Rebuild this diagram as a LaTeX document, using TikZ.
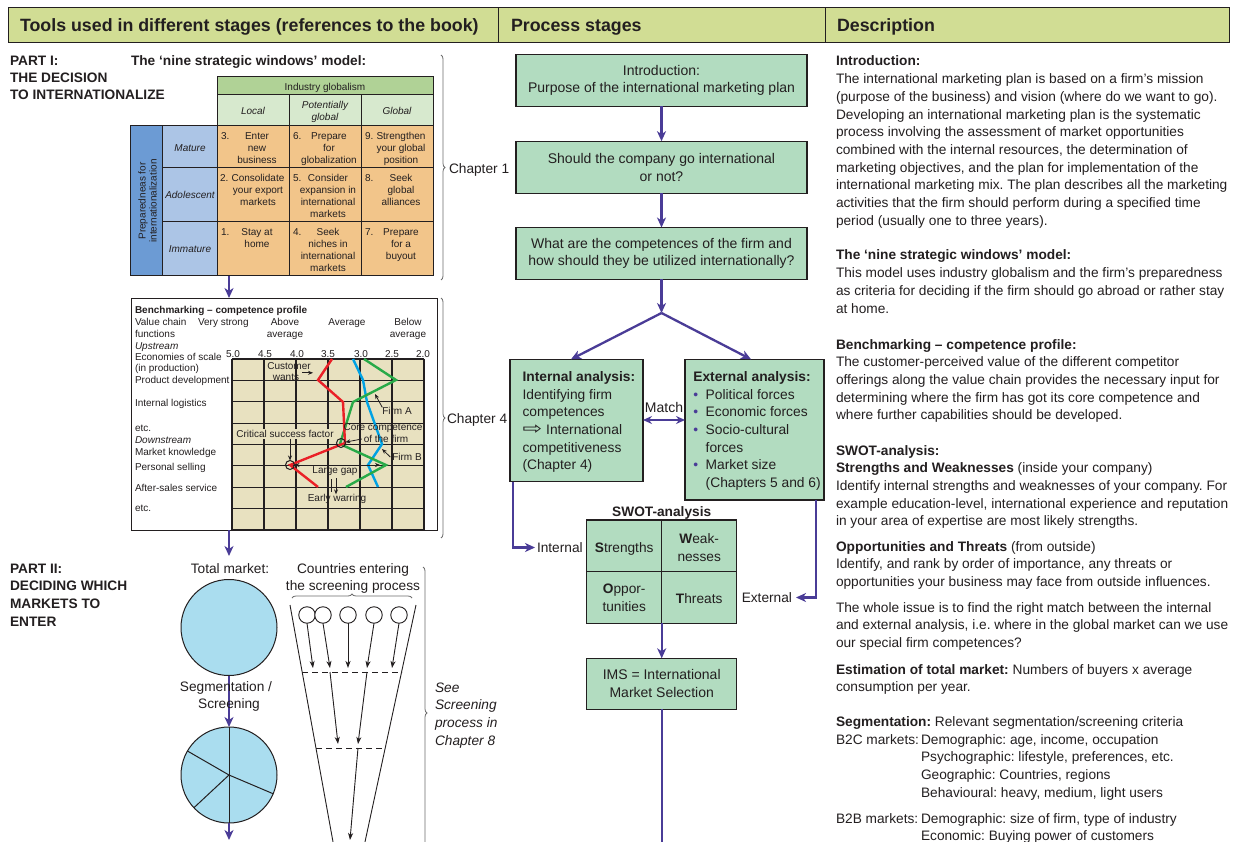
\documentclass[tikz,border=0pt]{standalone}
\usepackage{fontspec}
\setmainfont{Liberation Sans}
\newfontfamily\arrowfont{DejaVu Sans}
\usetikzlibrary{arrows.meta,decorations.pathreplacing}
\frenchspacing

\definecolor{ink}{RGB}{35,31,32}
\definecolor{hdrgreen}{RGB}{209,221,148}
\definecolor{procgreen}{RGB}{178,220,192}
\definecolor{flowpurple}{RGB}{74,60,151}
\definecolor{winorange}{RGB}{242,197,138}
\definecolor{igreen}{RGB}{176,210,150}
\definecolor{igreenlt}{RGB}{215,233,206}
\definecolor{prepblue}{RGB}{108,155,212}
\definecolor{rowblue}{RGB}{172,197,230}
\definecolor{gridbeige}{RGB}{232,225,192}
\definecolor{mktblue}{RGB}{170,221,239}
\definecolor{brgrey}{RGB}{110,110,110}
\definecolor{firmred}{RGB}{234,32,39}
\definecolor{firmblue}{RGB}{0,162,228}
\definecolor{firmgreen}{RGB}{40,170,72}

% a column of single-line nodes: style, name, x, first baseline, step, lines
\newcommand{\stackedlines}[6]{%
  \foreach \txt [count=\k] in {#6}{%
    \node[#1] (#2-\k) at (#3,{#4+(\k-1)*(#5)}) {\txt};}}

\begin{document}
\begin{tikzpicture}[x=1pt,y=-1pt,
  every node/.style={text=ink,inner sep=0pt,outer sep=0pt},
  hdrcell/.style={draw=ink,line width=1pt,fill=hdrgreen,minimum height=35,anchor=north west},
  hdrtext/.style={font=\bfseries\fontsize{17.8}{20}\selectfont,anchor=base west},
  dtxt/.style={font=\fontsize{13.7}{17.7}\selectfont,anchor=base west},
  ntxt/.style={font=\fontsize{13.7}{17.7}\selectfont,anchor=base},
  itxt/.style={font=\itshape\fontsize{13.7}{17.7}\selectfont,anchor=base west},
  parttxt/.style={font=\bfseries\fontsize{13.7}{17}\selectfont,anchor=base west},
  boxtxt/.style={font=\fontsize{13.8}{17.6}\selectfont,anchor=base west},
  flow/.style={draw=flowpurple,line width=2.3pt,-{Stealth[length=10pt,width=9pt,inset=3pt]}},
  flowline/.style={draw=flowpurple,line width=2.3pt},
  flowboth/.style={draw=flowpurple,line width=2.3pt,{Stealth[length=9pt,width=8pt,inset=3pt]}-{Stealth[length=9pt,width=8pt,inset=3pt]}},
  pbox/.style={draw=ink,line width=1.2pt,fill=procgreen,align=center,font=\fontsize{14}{17.7}\selectfont},
  cell/.style={draw=ink,line width=1pt,anchor=north west},
  wtxt/.style={font=\fontsize{10}{12}\selectfont,anchor=base},
  wnum/.style={font=\fontsize{10}{12}\selectfont,anchor=base west},
  btxt/.style={font=\fontsize{10}{12}\selectfont,anchor=base west},
  bctr/.style={font=\fontsize{10}{12}\selectfont,anchor=base},
  note/.style={font=\fontsize{10}{11}\selectfont},
  gridline/.style={draw=ink,line width=1.1pt},
  firmline/.style={line width=2.4pt,line join=miter},
  pointer/.style={draw=ink,line width=0.8pt,-{Stealth[length=5pt,width=4pt]}},
  funnel/.style={draw=ink,line width=0.9pt},
  screen/.style={draw=ink,line width=0.9pt,-{Stealth[length=7pt,width=5pt,inset=2pt]}},
  cut/.style={draw=ink,line width=0.9pt,dash pattern=on 6pt off 4pt},
  bracegrey/.style={draw=brgrey,line width=0.8pt,decorate,decoration={brace,amplitude=4pt}},
]
\useasboundingbox (0,0) rectangle (1239,842);
\fill[white] (0,0) rectangle (1239,842);

% ---------- header bar ----------
\node[hdrcell,minimum width=490] (hd1) at (8,8) {};
\node[hdrcell,minimum width=327] (hd2) at (498,8) {};
\node[hdrcell,minimum width=404] (hd3) at (825,8) {};
\node[hdrtext] (ht1) at (20,32) {Tools used in different stages (references to the book)};
\node[hdrtext] (ht2) at (511,32) {Process stages};
\node[hdrtext] (ht3) at (837,32) {Description};

% ---------- Part I ----------
\stackedlines{parttxt}{p1}{10}{66}{17}{PART I:,THE DECISION,TO INTERNATIONALIZE}
\node[parttxt] (nsw) at (131,66) {The ‘nine strategic windows’ model:};

% nine strategic windows grid
\node[cell,fill=igreen,minimum width=216,minimum height=18] (ig) at (217,77) {};
\node[cell,fill=igreenlt,minimum width=72,minimum height=31] (gl) at (217,95) {};
\node[cell,fill=igreenlt,minimum width=72,minimum height=31] (gp) at (289,95) {};
\node[cell,fill=igreenlt,minimum width=72,minimum height=31] (gg) at (361,95) {};
\node[cell,fill=prepblue,minimum width=32,minimum height=150] (prep) at (130,126) {};
\node[cell,fill=rowblue,minimum width=55,minimum height=42] (rm) at (162,126) {};
\node[cell,fill=rowblue,minimum width=55,minimum height=54] (ra) at (162,168) {};
\node[cell,fill=rowblue,minimum width=55,minimum height=54] (ri) at (162,222) {};
\foreach \c/\x in {1/217,2/289,3/361}
  \foreach \r/\y/\h in {1/126/42,2/168/54,3/222/54}
    \node[cell,fill=winorange,minimum width=72,minimum height=\h] (w\r\c) at (\x,\y) {};

\node[wtxt] (igt) at (325,91) {Industry globalism};
\node[wtxt,font=\itshape\fontsize{10}{12}\selectfont] (glt) at (253,115) {Local};
\stackedlines{wtxt,font=\itshape\fontsize{10}{12}\selectfont}{gpt}{325}{109}{12}{Potentially,global}
\node[wtxt,font=\itshape\fontsize{10}{12}\selectfont] (ggt) at (397,115) {Global};
\node[wtxt,font=\itshape\fontsize{10}{12}\selectfont] (rmt) at (190,152) {Mature};
\node[wtxt,font=\itshape\fontsize{10}{12}\selectfont] (rat) at (190,199) {Adolescent};
\node[wtxt,font=\itshape\fontsize{10}{12}\selectfont] (rit) at (190,253) {Immature};
\node[font=\fontsize{10}{11}\selectfont,align=center,rotate=90] (prept) at (147.5,201) {Preparedneas for\\internationalization};

\node[wnum] (n11) at (221,140) {3.};
\node[wnum] (n12) at (293,140) {6.};
\node[wnum] (n13) at (365,140) {9.};
\node[wnum] (n21) at (220,182) {2.};
\node[wnum] (n22) at (293,182) {5.};
\node[wnum] (n23) at (365,182) {8.};
\node[wnum] (n31) at (221,236) {1.};
\node[wnum] (n32) at (293,236) {4.};
\node[wnum] (n33) at (365,236) {7.};
\stackedlines{wtxt}{t11}{257}{140}{12}{Enter,new,business}
\stackedlines{wtxt}{t12}{329}{140}{12}{Prepare,for,globalization}
\stackedlines{wtxt}{t13}{401}{140}{12}{Strengthen,your global,position}
\stackedlines{wtxt}{t21}{258}{182}{12}{Consolidate,your export,markets}
\stackedlines{wtxt}{t22}{328}{182}{12}{Consider,expansion in,international,markets}
\stackedlines{wtxt}{t23}{401}{182}{12}{Seek,global,alliances}
\stackedlines{wtxt}{t31}{257}{236}{12}{Stay at,home}
\stackedlines{wtxt}{t32}{328}{236}{12}{Seek,niches in,international,markets}
\stackedlines{wtxt}{t33}{401}{236}{12}{Prepare,for a,buyout}

\draw[bracegrey] (441,55) -- (441,280);
\node[dtxt] (ch1) at (449,174) {Chapter 1};

% ---------- benchmarking competence profile ----------
\node[cell,fill=white,minimum width=306,minimum height=232] (bm) at (131,298) {};
\coordinate (winbot) at (229,276);
\draw[flow] (winbot) -- (winbot |- bm.north);

\fill[gridbeige] (232,359) rectangle (424,530);
\foreach \x in {232,264,...,424} \draw[gridline] (\x,359) -- (\x,530);
\foreach \k in {0,...,8} \draw[gridline] (232,{359+\k*21.375}) -- (424,{359+\k*21.375});

\node[btxt,font=\bfseries\fontsize{10}{12}\selectfont] (bmt) at (135,313) {Benchmarking – competence profile};
\node[btxt] (vc1) at (135,325) {Value chain};
\node[btxt] (vc2) at (135,337) {functions};
\node[btxt] (vs) at (198,325) {Very strong};
\node[bctr] (ab1) at (285,325) {Above};
\node[bctr] (ab2) at (285,337) {average};
\node[bctr] (av) at (347,325) {Average};
\node[bctr] (bl1) at (408,325) {Below};
\node[bctr] (bl2) at (408,337) {average};
\node[btxt,font=\itshape\fontsize{10}{12}\selectfont] (ups) at (135,349) {Upstream};
\node[btxt] (eos) at (135,360) {Economies of scale};
\node[btxt] (inp) at (135,371) {(in production)};
\node[btxt] (pdv) at (135,383) {Product development};
\node[btxt] (ilg) at (135,406) {Internal logistics};
\node[btxt] (etc1) at (135,431) {etc.};
\node[btxt,font=\itshape\fontsize{10}{12}\selectfont] (dns) at (135,443) {Downstream};
\node[btxt] (mkn) at (135,455) {Market knowledge};
\node[btxt] (psl) at (135,470) {Personal selling};
\node[btxt] (ass) at (135,491) {After-sales service};
\node[btxt] (etc2) at (135,511) {etc.};
\foreach \v/\x in {5.0/233,4.5/265,4.0/297,3.5/328,3.0/361,2.5/392,2.0/423}
  \node[bctr] (sc\x) at (\x,357) {\v};

% competitor profiles
\draw[firmline,firmblue] (353,359) -- (363,380) -- (367,402) -- (382,444) -- (368,465) -- (378,487);
\draw[firmline,firmgreen] (364,359) -- (396,380) -- (353,402) -- (340,444) -- (386,465) -- (346,487);
\draw[firmline,firmred] (332,359) -- (318,380) -- (343,402) -- (345,443) -- (290,465) -- (318,487);
\node[circle,draw=ink,line width=1pt,minimum size=9] (core) at (341,443) {};
\node[circle,draw=ink,line width=1pt,minimum size=9] (csf) at (290,465) {};

% annotations
\node[wtxt] (cw1) at (289,369) {Customer};
\node[wtxt] (cw2) at (286,380) {wants};
\draw[pointer] ([xshift=3pt,yshift=4pt]cw2.east) -- ++(11,0);
\node[note] (fa) at (397,411) {Firm A};
\coordinate (fa-tip) at (375,394);
\draw[pointer] (fa.north west) -- (fa-tip);
\node[note] (cc1) at (383,428) {Core competence};
\node[note] (cc2) at (386,439) {of the firm};
\draw[pointer] ([xshift=-2pt]cc2.west) -- (core);
\node[note,fill=gridbeige,inner sep=1pt] (csft) at (285,434) {Critical success factor};
\draw[pointer] (csft.south -| csf) -- (csf);
\node[note] (fb) at (407,457) {Firm B};
\coordinate (fb-tip) at (382,449);
\draw[pointer] ([xshift=-2pt]fb.west) -- (fb-tip);
\coordinate (gap-end) at (380,465);
\draw[draw=ink,line width=0.8pt,{Stealth[length=5pt,width=4pt]}-{Stealth[length=5pt,width=4pt]}] (csf) -- (gap-end);
\node[note] (lg) at (335,471) {Large gap};
\node[note] (ew) at (337,499) {Early warring};
\coordinate (ew-top) at (336,478);
\draw[pointer] (ew-top) -- (ew.north -| ew-top);
\coordinate (ew-tick) at (331,479);
\draw[draw=ink,line width=0.8pt] (ew-tick) -- ++(0,13);

\draw[bracegrey] (441,298) -- (441,538);
\node[dtxt] (ch4) at (447,423) {Chapter 4};

% ---------- Part II ----------
\stackedlines{parttxt}{p2}{10}{573}{17.7}{PART II:,DECIDING WHICH,MARKETS TO,ENTER}
\coordinate (bmbot) at (229,530);
\coordinate (tmin) at (229,556);
\draw[flow] (bmbot) -- (tmin);
\node[ntxt] (tmt) at (230,573) {Total market:};
\node[circle,draw=ink,fill=mktblue,line width=1pt,minimum size=96] (tot) at (229,627.5) {};
\node[circle,draw=ink,fill=mktblue,line width=1pt,minimum size=96] (seg) at (229,775) {};
\draw[flow] (tot.south) -- (seg.north);
\node[ntxt] (sg1) at (226,691) {Segmentation /};
\node[ntxt] (sg2) at (229,708) {Screening};
\draw[draw=ink,line width=1pt] (seg.north) -- (seg.south);
\draw[draw=ink,line width=1pt] (seg.center) -- (seg.150);
\draw[draw=ink,line width=1pt] (seg.center) -- (seg.223);
\draw[draw=ink,line width=1pt] (seg.center) -- (seg.-23);
\coordinate (segout) at (229,840);
\draw[flow] (seg.south) -- (segout);

\stackedlines{ntxt}{cty}{353}{573}{17}{Countries entering,the screening process}
\draw[bracegrey] (292,598) -- (412,598);

% screening funnel
\coordinate (fl-a) at (290,605);
\coordinate (fl-b) at (336.3,860);
\coordinate (fr-a) at (416,605);
\coordinate (fr-b) at (361.1,860);
\draw[funnel] (fl-a) -- (fl-b);
\draw[funnel] (fr-a) -- (fr-b);
\foreach \i/\x in {1/307,2/323,3/348,4/374,5/399}
  \node[circle,draw=ink,fill=white,line width=0.9pt,minimum size=16.5] (cc\i) at (\x,615) {};
\coordinate (s1a) at (313,668);
\coordinate (s1b) at (330,668);
\coordinate (s1c) at (348,668);
\coordinate (s1d) at (367,668);
\coordinate (s1e) at (392,668);
\draw[screen] (cc1.south) -- (s1a);
\draw[screen] (cc2.south) -- (s1b);
\draw[screen] (cc3.south) -- (s1c);
\draw[screen] (cc4.south) -- (s1d);
\draw[screen] (cc5.south) -- (s1e);
\coordinate (cut1a) at (302,672);
\coordinate (cut1b) at (402,672);
\draw[cut] (cut1a) -- (cut1b);
\coordinate (s2a) at (330,672);
\coordinate (s2b) at (367,672);
\coordinate (s2c) at (338,744);
\coordinate (s2d) at (358,744);
\draw[screen] (s2a) -- (s2c);
\draw[screen] (s2b) -- (s2d);
\coordinate (cut2a) at (316,748);
\coordinate (cut2b) at (385,748);
\draw[cut] (cut2a) -- (cut2b);
\coordinate (s3a) at (358,748);
\coordinate (s3b) at (350,840);
\draw[screen] (s3a) -- (s3b);

\draw[bracegrey] (423,567) -- (423,859);
\stackedlines{itxt}{see}{435}{692}{17.7}{See,Screening,process in,Chapter 8}

% ---------- process stages ----------
\node[pbox,minimum width=291,minimum height=52] (intro) at (661.5,80.5) {Introduction:\\Purpose of the international marketing plan};
\node[pbox,minimum width=291,minimum height=52] (goint) at (661.5,167.2) {Should the company go international\\or not?};
\node[pbox,minimum width=291,minimum height=52] (comp) at (661.5,253.5) {What are the competences of the firm and\\how should they be utilized internationally?};
\draw[flow] (intro.south) -- (goint.north);
\draw[flow] (goint.south) -- (comp.north);
\coordinate (split) at (661.5,313);
\draw[flow] (comp.south) -- (split);

\node[pbox,minimum width=133,minimum height=122.5,anchor=north west] (ia) at (510,359.3) {};
\node[pbox,minimum width=139,minimum height=140.7,anchor=north west] (ea) at (685,359.3) {};
\coordinate (ia-in) at (571,359.3);
\coordinate (ea-in) at (751,359.3);
\draw[flow] (split) -- (ia-in);
\draw[flow] (split) -- (ea-in);

\stackedlines{boxtxt}{iat}{522.5}{381.7}{17.6}{\textbf{Internal analysis:},Identifying firm,competences,{\scalebox{1.7}[1.25]{\arrowfont ⇨}\hspace{4pt}International},competitiveness,(Chapter 4)}
\stackedlines{boxtxt}{eat}{693.3}{381.7}{17.6}{\textbf{External analysis:},{\makebox[12.4pt][l]{\textcolor{flowpurple}{•}}Political forces},{\makebox[12.4pt][l]{\textcolor{flowpurple}{•}}Economic forces},{\makebox[12.4pt][l]{\textcolor{flowpurple}{•}}Socio-cultural},{\hspace*{12.4pt}forces},{\makebox[12.4pt][l]{\textcolor{flowpurple}{•}}Market size},{\hspace*{12.4pt}(Chapters 5 and 6)}}

\node[ntxt,font=\fontsize{14}{17}\selectfont] (match) at (664,412) {Match};
\coordinate (match-l) at (643,420);
\coordinate (match-r) at (685,420);
\draw[flowboth] (match-l) -- (match-r);

\node[ntxt,font=\bfseries\fontsize{13.7}{17}\selectfont] (swt) at (661.7,516) {SWOT-analysis};
\node[pbox,minimum width=75,minimum height=51.7,anchor=north west] (sS) at (586.7,520) {};
\node[pbox,minimum width=75,minimum height=51.7,anchor=north west] (sW) at (661.7,520) {};
\node[pbox,minimum width=75,minimum height=51.7,anchor=north west] (sO) at (586.7,571.7) {};
\node[pbox,minimum width=75,minimum height=51.7,anchor=north west] (sT) at (661.7,571.7) {};
\node[ntxt] (sSt) at (624.2,552) {\textbf{S}trengths};
\stackedlines{ntxt}{sWt}{699.2}{543}{18}{\textbf{W}eak-,nesses}
\stackedlines{ntxt}{sOt}{624.2}{593}{18}{\textbf{O}ppor-,tunities}
\node[ntxt] (sTt) at (699.2,603) {\textbf{T}hreats};

\node[dtxt] (intl) at (537,552) {Internal};
\node[ntxt,anchor=base east] (extl) at (792,602) {External};
\coordinate (ia-out) at (513.3,481.8);
\coordinate (ea-out) at (816,500);
\draw[flow] (ia-out) |- ([xshift=-2pt,yshift=4.5pt]intl.base west);
\draw[flow] (ea-out) |- ([xshift=4pt,yshift=4.5pt]extl.base east);

\node[pbox,minimum width=150,minimum height=51,anchor=north west] (ims) at (586.7,658.3) {IMS = International\\Market Selection};
\draw[flow] (sO.south east) -- (ims.north);
\coordinate (pgend) at (661.7,850);
\draw[flowline] (ims.south) -- (pgend);

% ---------- description ----------
\stackedlines{dtxt}{dA}{836}{66}{17.7}{\textbf{Introduction:},{The international marketing plan is based on a firm’s mission},{(purpose of the business) and vision (where do we want to go).},{Developing an international marketing plan is the systematic},{process involving the assessment of market opportunities},{combined with the internal resources, the determination of},{marketing objectives, and the plan for implementation of the},{international marketing mix. The plan describes all the marketing},{activities that the firm should perform during a specified time},{period (usually one to three years).}}
\stackedlines{dtxt}{dB}{836}{260}{17.7}{\textbf{The ‘nine strategic windows’ model:},{This model uses industry globalism and the firm's preparedness},{as criteria for deciding if the firm should go abroad or rather stay},{at home.}}
\stackedlines{dtxt}{dC}{836}{349}{17.7}{\textbf{Benchmarking – competence profile:},{The customer-perceived value of the different competitor},{offerings along the value chain provides the necessary input for},{determining where the firm has got its core competence and},{where further capabilities should be developed.}}
\stackedlines{dtxt}{dD}{836}{455}{17.7}{\textbf{SWOT-analysis:},{\textbf{Strengths and Weaknesses} (inside your company)},{Identify internal strengths and weaknesses of your company. For},{example education-level, international experience and reputation},{in your area of expertise are most likely strengths.}}
\stackedlines{dtxt}{dE}{836}{551}{17.7}{{\textbf{Opportunities and Threats} (from outside)},{Identify, and rank by order of importance, any threats or},{opportunities your business may face from outside influences.}}
\stackedlines{dtxt}{dF}{836}{612}{17.7}{{The whole issue is to find the right match between the internal},{and external analysis, i.e. where in the global market can we use},{our special firm competences?}}
\stackedlines{dtxt}{dG}{836}{674}{17.7}{{\textbf{Estimation of total market:} Numbers of buyers x average},{consumption per year.}}
\node[dtxt] (dH) at (836,726) {\textbf{Segmentation:} Relevant segmentation/screening criteria};
\node[dtxt] (b2c) at (836,744) {B2C markets:};
\stackedlines{dtxt}{b2cl}{921}{744}{17.7}{{Demographic: age, income, occupation},{Psychographic: lifestyle, preferences, etc.},{Geographic: Countries, regions},{Behavioural: heavy, medium, light users}}
\node[dtxt] (b2b) at (836,823) {B2B markets:};
\stackedlines{dtxt}{b2bl}{921}{823}{17.7}{{Demographic: size of firm, type of industry},{Economic: Buying power of customers}}
\end{tikzpicture}
\end{document}
